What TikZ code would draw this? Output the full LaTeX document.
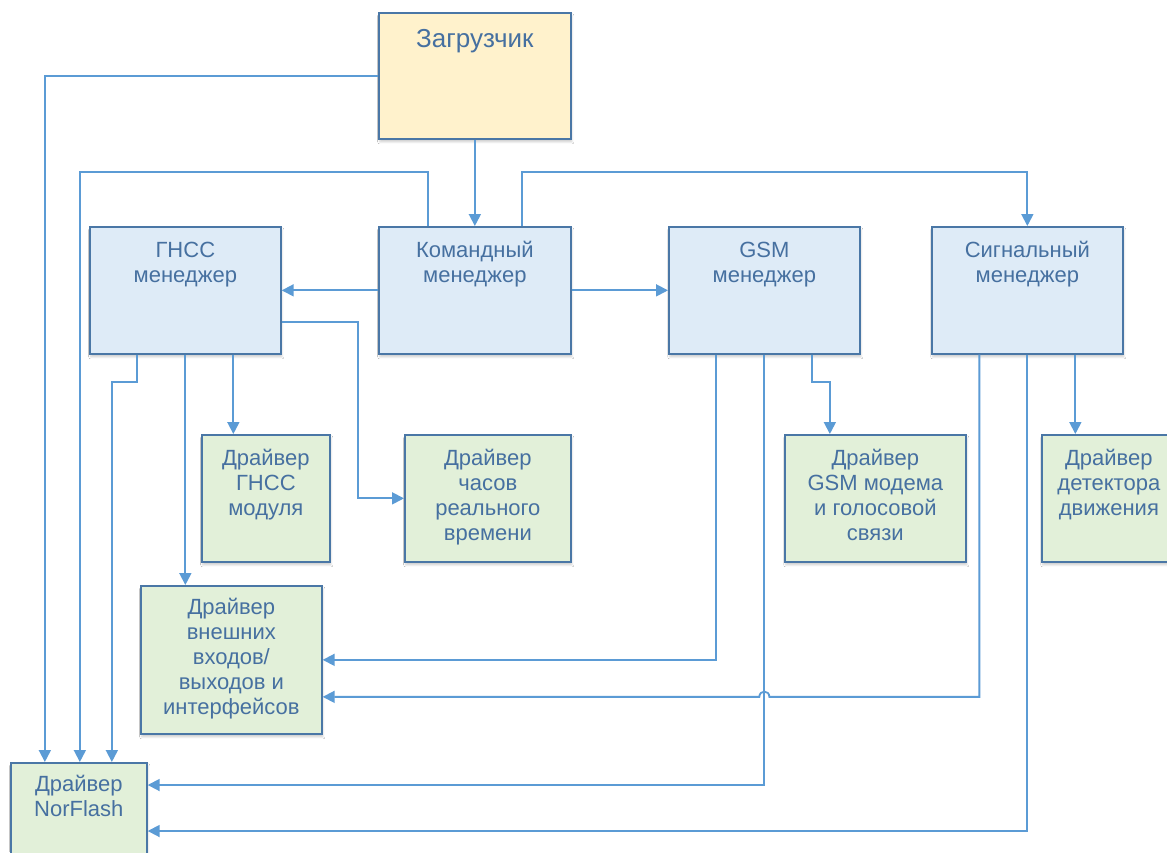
\documentclass[tikz,border=0pt]{standalone}
\usepackage{fontspec}
\setmainfont{Liberation Sans}
\usetikzlibrary{arrows.meta,calc,shadows.blur}
\definecolor{linec}{HTML}{5B9BD5}
\definecolor{bordc}{HTML}{4A77A6}
\definecolor{txtc}{HTML}{4670A0}
\definecolor{fblue}{HTML}{DEEBF7}
\definecolor{fgreen}{HTML}{E2F0D9}
\definecolor{fyellow}{HTML}{FFF2CC}
\newcommand\myst{\rule{0pt}{20pt}}
\begin{document}
\begin{tikzpicture}[x=1pt,y=-1pt,
  box/.style={draw=bordc, line width=1.7pt, anchor=north west, inner sep=0pt,
    blur shadow={shadow xshift=1pt, shadow yshift=-3pt, shadow opacity=20, shadow blur steps=6}},
  mgr/.style={box, fill=fblue},
  drv/.style={box, fill=fgreen},
  ldr/.style={box, fill=fyellow},
  lbl/.style={anchor=north, inner sep=0pt, align=center, text=txtc, font=\fontsize{22}{25}\selectfont},
  arr/.style={draw=linec, line width=1.8pt, -{Triangle[length=12pt,width=12pt]}}]
\clip (0,0) rectangle (1167,852);
\fill[white] (0,0) rectangle (1167,852);
% boxes
\node[ldr, minimum width=192pt, minimum height=126pt] (zagr) at (378,12) {};
\node[mgr, minimum width=192pt, minimum height=127pt] (kom) at (378,226) {};
\node[mgr, minimum width=191pt, minimum height=127pt] (gnss) at (89,226) {};
\node[mgr, minimum width=191pt, minimum height=127pt] (gsm) at (668,226) {};
\node[mgr, minimum width=191pt, minimum height=127pt] (sig) at (931,226) {};
\node[drv, minimum width=128pt, minimum height=127pt] (gmod) at (201,434) {};
\node[drv, minimum width=166pt, minimum height=127pt] (rtc) at (404,434) {};
\node[drv, minimum width=181pt, minimum height=127pt] (gsmd) at (784,434) {};
\node[drv, minimum width=134pt, minimum height=127pt] (mot) at (1041,434) {};
\node[drv, minimum width=181pt, minimum height=148pt] (ext) at (140,585) {};
\node[drv, minimum width=136pt, minimum height=127pt] (nor) at (10,762) {};
% labels
\node[lbl, font=\fontsize{26}{29}\selectfont] (tzagr) at ($(zagr.north)+(0,15)$) {\myst Загрузчик};
\node[lbl] (tkom) at ($(kom.north)+(0,11)$) {\myst Командный\\менеджер};
\node[lbl] (tgnss) at ($(gnss.north)+(0,11)$) {\myst ГНСС\\менеджер};
\node[lbl] (tgsm) at ($(gsm.north)+(0,11)$) {\myst GSM\\менеджер};
\node[lbl] (tsig) at ($(sig.north)+(0,11)$) {\myst Сигнальный\\менеджер};
\node[lbl] (tgmod) at ($(gmod.north)+(0,11)$) {\myst Драйвер\\ГНСС\\модуля};
\node[lbl] (trtc) at ($(rtc.north)+(0,11)$) {\myst Драйвер\\часов\\реального\\времени};
\node[lbl] (tgsmd) at ($(gsmd.north)+(0,11)$) {\myst Драйвер\\GSM модема\\и голосовой\\связи};
\node[lbl] (tmot) at ($(mot.north)+(0,11)$) {\myst Драйвер\\детектора\\движения};
\node[lbl] (text) at ($(ext.north)+(0,9)$) {\myst Драйвер\\внешних\\входов/\\выходов и\\интерфейсов};
\node[lbl] (tnor) at ($(nor.north)+(0,9)$) {\myst Драйвер\\NorFlash};
% connectors
\draw[arr] (zagr.west) -| ($(nor.north)+(-34,0)$);
\draw[arr] (zagr.south) -- (kom.north);
\draw[arr] ($(kom.north)+(-47,0)$) -- ++(0,-54) -| ($(nor.north)+(1,0)$);
\draw[arr] ($(kom.north)+(47,0)$) -- ++(0,-54) -| (sig.north);
\draw[arr] (kom.west) -- (gnss.east);
\draw[arr] (kom.east) -- (gsm.west);
\draw[arr] ($(gnss.east)+(0,31.5)$) -- ++(76,0) |- (rtc.west);
\draw[arr] ($(gnss.south)+(-48,0)$) -- ++(0,27) -| ($(nor.north)+(33,0)$);
\draw[arr] (gnss.south) -- (gnss.south |- ext.north);
\coordinate (g3) at ($(gnss.south)+(48,0)$);
\draw[arr] (g3) -- (g3 |- gmod.north);
\coordinate (m1) at ($(gsm.south)+(-48,0)$);
\draw[arr] (m1) |- (ext.east);
\draw[arr] (gsm.south) |- ($(nor.north east)+(0,23)$);
\draw[arr] ($(gsm.south)+(48,0)$) -- ++(0,27) -| ($(gsmd.north)+(-45.5,0)$);
\coordinate (s1) at ($(sig.south)+(-48,0)$);
\coordinate (yy) at ($(ext.east)+(0,37)$);
\coordinate (hop) at (gsm.south |- yy);
\draw[arr] (s1) |- ($(hop)+(5,0)$) .. controls +(0,-7) and +(0,-7) .. ($(hop)+(-5,0)$) -- (yy);
\draw[arr] (sig.south) |- ($(nor.north east)+(0,69)$);
\coordinate (s3) at ($(sig.south)+(48,0)$);
\draw[arr] (s3) -- (s3 |- mot.north);
\end{tikzpicture}
\end{document}
